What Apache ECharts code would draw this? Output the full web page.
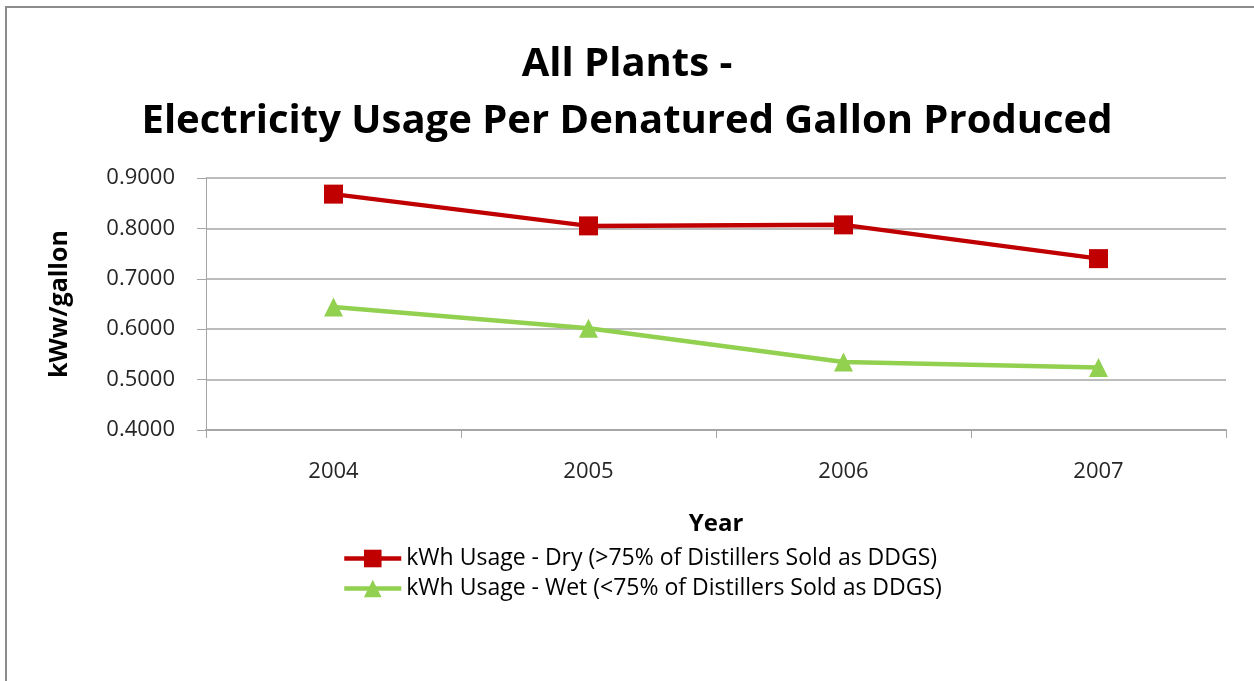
<!DOCTYPE html>
<html>
<head>
    <meta charset="UTF-8">
    <title>All Plants - Electricity Usage</title>
    <script src="https://cdn.jsdelivr.net/npm/echarts@6/dist/echarts.min.js"></script>
</head>
<style type="text/css">
    body { margin: 0; background: #fff; }
    #frame { position: absolute; left: 5px; top: 6px; width: 1260px; height: 690px;
             border-left: 2px solid #8c8c8c; border-top: 2px solid #8c8c8c; }
    #main { position: absolute; left: 0; top: 0; width: 1254px; height: 681px; }
</style>
<body>
<div id="frame"></div>
<div id="main"></div>
<script type="text/javascript">
    var years = ['2004', '2005', '2006', '2007'];
    var dryValues = [0.868, 0.805, 0.807, 0.740];
    var wetValues = [0.644, 0.602, 0.535, 0.524];
    var dryName = 'kWh Usage - Dry (>75% of Distillers Sold as DDGS)';
    var wetName = 'kWh Usage - Wet (<75% of Distillers Sold as DDGS)';

    var font = 'Open Sans';
    var myChart = echarts.init(document.getElementById('main'));
    var option = {
        animation: false,
        textStyle: { fontFamily: font },
        title: {
            text: 'All Plants -\nElectricity Usage Per Denatured Gallon Produced',
            left: 'center',
            top: 31,
            textStyle: { fontSize: 40, fontWeight: 'bold', color: '#000', lineHeight: 57, fontFamily: font }
        },
        legend: {
            orient: 'vertical',
            left: 337,
            top: 542,
            itemWidth: 57,
            itemHeight: 22,
            itemGap: 7,
            lineStyle: { width: 4.5 },
            textStyle: { fontSize: 23, color: '#000', fontFamily: font },
            data: [dryName, wetName]
        },
        grid: { left: 206, right: 28, top: 178, bottom: 251 },
        xAxis: {
            type: 'category',
            data: years,
            boundaryGap: true,
            name: 'Year',
            nameLocation: 'middle',
            nameGap: 82,
            nameTextStyle: { fontSize: 24, fontWeight: 'bold', color: '#000' },
            axisLine: { lineStyle: { color: '#a6a6a6', width: 2 } },
            axisTick: { show: true, length: 8, lineStyle: { color: '#a6a6a6' } },
            axisLabel: { fontSize: 22, color: '#262626', margin: 31 }
        },
        yAxis: {
            type: 'value',
            min: 0.4,
            max: 0.9,
            interval: 0.1,
            name: 'kWw/gallon',
            nameLocation: 'middle',
            nameGap: 134,
            nameTextStyle: { fontSize: 25, fontWeight: 'bold', color: '#000' },
            axisLine: { show: true, lineStyle: { color: '#a6a6a6' } },
            axisTick: { show: true, length: 9, lineStyle: { color: '#a6a6a6' } },
            axisLabel: {
                fontSize: 22, color: '#262626', margin: 31,
                formatter: function (v) { return v.toFixed(4); }
            },
            splitLine: { lineStyle: { color: '#a6a6a6', width: 1.5 } }
        },
        series: [
            {
                name: dryName,
                type: 'line',
                data: dryValues,
                symbol: 'rect',
                symbolSize: 19,
                lineStyle: { color: '#c00000', width: 4.5 },
                itemStyle: { color: '#c00000' }
            },
            {
                name: wetName,
                type: 'line',
                data: wetValues,
                symbol: 'triangle',
                symbolSize: 19,
                lineStyle: { color: '#92d050', width: 4.5 },
                itemStyle: { color: '#92d050' }
            }
        ]
    };
    myChart.setOption(option);
</script>
</body>
</html>
